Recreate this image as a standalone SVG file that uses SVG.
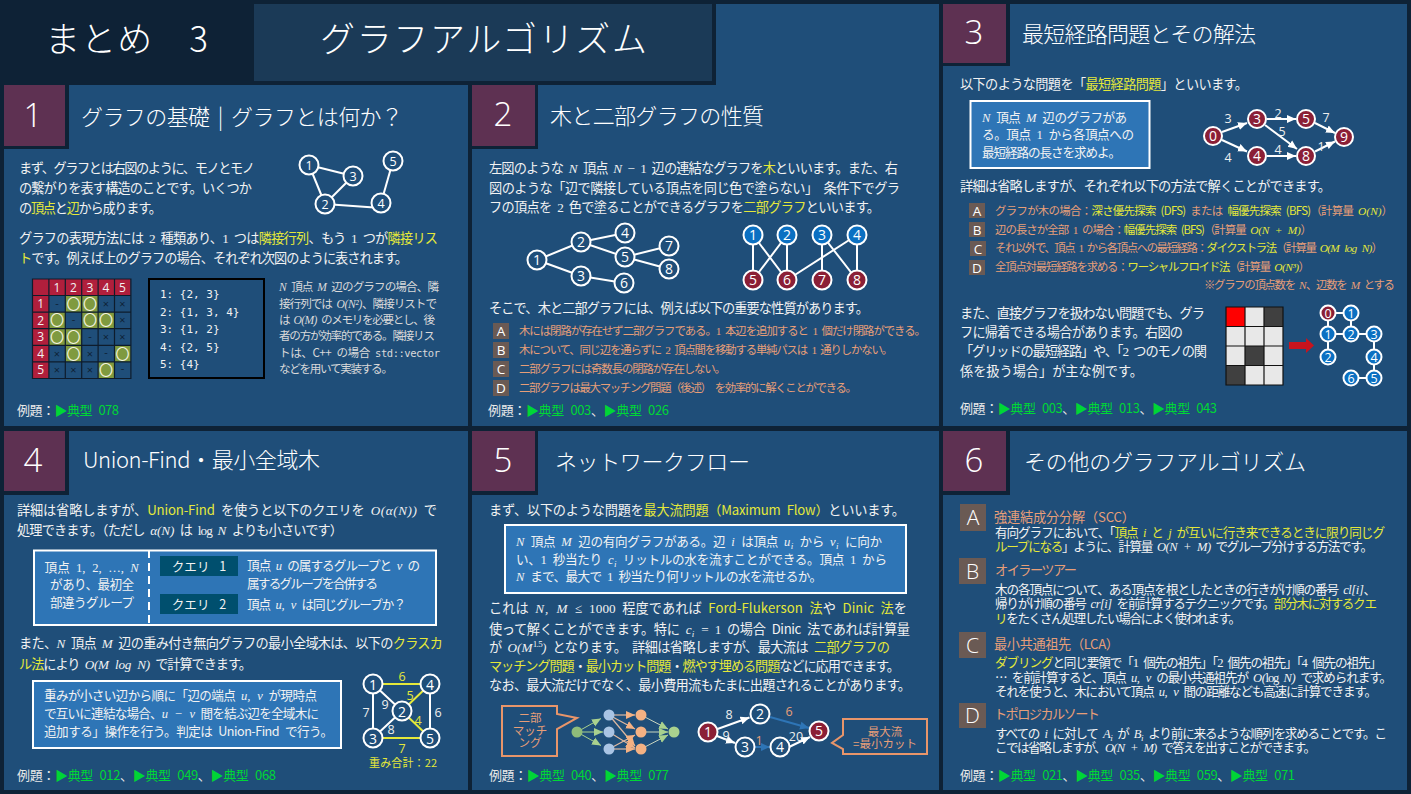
<svg xmlns="http://www.w3.org/2000/svg" width="1411" height="794" viewBox="0 0 1411 794">
<style>
text{font-family:"Noto Sans CJK JP","Noto Sans",sans-serif;fill:#f2f2f2}
.b{font-size:13.2px;word-spacing:3.5px}
.s{font-size:11.6px;word-spacing:3px}
.c{font-size:12.6px;word-spacing:3.5px}
.o{fill:#e79e78}
.sa{font-size:11.4px;fill:#e79e78;word-spacing:3px}
.y{fill:#e4e83a}
.g{fill:#00d636}
.ex{font-size:13px;fill:#e8e8e8;word-spacing:4px}
.m{font-family:"Liberation Serif","DejaVu Serif",serif;font-style:italic;letter-spacing:.7px}
.r{font-family:"Liberation Serif","DejaVu Serif",serif}
.p{fill:#1f4e79}
.sh{fill:#0e2236}
.nb{fill:#5e3152}
.num{font-family:"Open Sans","Noto Sans",sans-serif;font-weight:300;font-size:33px;text-anchor:middle;fill:#fff}
.h{font-size:22px;font-weight:300;fill:#fff;word-spacing:4px}
.big{font-size:35px;font-weight:300;fill:#fff}
.bd{fill:#6a5a54}
.bl{font-family:"Open Sans","Noto Sans",sans-serif;font-size:13.5px;text-anchor:middle;fill:#fff}
.bl2{font-family:"Open Sans","Noto Sans",sans-serif;font-size:21px;font-weight:300;text-anchor:middle;fill:#fff}
.box{fill:#2e75b6;stroke:#fff;stroke-width:2}
.n{fill:#1f4e79;stroke:#fff;stroke-width:2}
.nr{fill:#8b1f36;stroke:#fff;stroke-width:2}
.nbl{fill:#0b70c2;stroke:#fff;stroke-width:2}
.nl{font-family:"Open Sans","Noto Sans",sans-serif;font-size:14px;text-anchor:middle;fill:#fff}
.nls{font-family:"Open Sans","Noto Sans",sans-serif;font-size:12.5px;text-anchor:middle;fill:#fff}
.e{stroke:#fff;stroke-width:2;fill:none}
.ey{stroke:#e4e83a;stroke-width:2;fill:none}
.eb{stroke:#2e75b6;stroke-width:2;fill:none}
.lb{font-family:"Open Sans","Noto Sans",sans-serif;font-size:12.5px;text-anchor:middle;fill:#eee}
.lo{fill:#e79e78}
.ly{fill:#e4e83a}
.co{fill:#1f4e79;stroke:#e8956a;stroke-width:2}
.ct{font-size:11.5px;text-anchor:middle;fill:#e79e78}
.mono{font-family:"DejaVu Sans Mono","Liberation Mono",monospace;font-size:11px;fill:#f2f2f2}
.hd{fill:#b01f3c}
.cl{fill:#7f9a3f}
.gl{stroke:#0e1c2c;stroke-width:1.2;fill:none}
.mt{font-family:"Open Sans","Noto Sans",sans-serif;font-size:12px;text-anchor:middle;fill:#f2f2f2}
.mx{font-family:"Open Sans","Noto Sans",sans-serif;font-size:11px;text-anchor:middle;fill:#0e2236}
.mo{font-size:14px;text-anchor:middle;fill:#f4f4e0}
.q{fill:#004f6e}
.qt{font-size:12.6px;text-anchor:middle;fill:#f2f2f2;word-spacing:7px}
.ln{stroke:#c9d6c0;stroke-width:1;fill:none}
.lnor{stroke:#e0b9a0;stroke-width:1.2;fill:none}
</style>
<defs>
<marker id="aw" markerUnits="userSpaceOnUse" markerWidth="10" markerHeight="10" refX="9" refY="5" orient="auto"><path d="M0 1L9 5L0 9z" fill="#fff"/></marker>
<marker id="ab" markerUnits="userSpaceOnUse" markerWidth="10" markerHeight="10" refX="9" refY="5" orient="auto"><path d="M0 1L9 5L0 9z" fill="#2e75b6"/></marker>
<marker id="ag" markerUnits="userSpaceOnUse" markerWidth="10" markerHeight="10" refX="9" refY="5" orient="auto"><path d="M0 1L9 5L0 9z" fill="#a9d18e"/></marker>
<marker id="ao" markerUnits="userSpaceOnUse" markerWidth="10" markerHeight="10" refX="9" refY="5" orient="auto"><path d="M0 1L9 5L0 9z" fill="#f4b183"/></marker>
</defs>
<rect width="1411" height="794" class="sh"/>

<g id="title">
<rect x="716" y="4" width="223" height="81" class="p"/>
<rect x="254" y="4" width="458" height="77" fill="#1b3a57"/>
<text x="45" y="52" class="big" textLength="163">まとめ　3</text>
<text x="320" y="52" class="big" textLength="327">グラフアルゴリズム</text>
</g>

<g id="panel-1">
<rect x="4" y="85" width="464" height="341" class="p"/>
<rect x="4" y="85" width="65" height="64" class="sh"/><rect x="4" y="85" width="61" height="61" class="nb"/>
<text x="33" y="127" class="num">1</text>
<text x="81" y="125" class="h" textLength="322">グラフの基礎 | グラフとは何か？</text>
<text x="19" y="173" class="b" textLength="236">まず、グラフとは右図のように、モノとモノ</text>
<text x="19" y="193" class="b" textLength="233">の繋がりを表す構造のことです。いくつか</text>
<text x="19" y="213" class="b" textLength="143">の<tspan class="y">頂点</tspan>と<tspan class="y">辺</tspan>から成ります。</text>
<text x="19" y="243" class="b" textLength="419">グラフの表現方法には <tspan class="r">2</tspan> 種類あり、<tspan class="r">1</tspan> つは<tspan class="y">隣接行列</tspan>、もう <tspan class="r">1</tspan> つが<tspan class="y">隣接リス</tspan></text>
<text x="19" y="263" class="b" textLength="389"><tspan class="y">ト</tspan>です。例えば上のグラフの場合、それぞれ次図のように表されます。</text>

<g id="graph-1-connectors">
<line x1="309" y1="165" x2="353" y2="176" class="e"/><line x1="309" y1="165" x2="325" y2="204" class="e"/><line x1="353" y1="176" x2="325" y2="204" class="e"/><line x1="325" y1="204" x2="381" y2="208" class="e"/><line x1="381" y1="203" x2="393" y2="161" class="e"/>
</g>
<g id="g1-n1"><circle cx="309" cy="165" r="9.5" class="n"/><text x="309" y="170" class="nls">1</text></g>
<g id="g1-n3"><circle cx="353" cy="176" r="9.5" class="n"/><text x="353" y="181" class="nls">3</text></g>
<g id="g1-n5"><circle cx="393" cy="161" r="9.5" class="n"/><text x="393" y="166" class="nls">5</text></g>
<g id="g1-n2"><circle cx="325" cy="204" r="9.5" class="n"/><text x="325" y="209" class="nls">2</text></g>
<g id="g1-n4"><circle cx="381" cy="203" r="9.5" class="n"/><text x="381" y="208" class="nls">4</text></g>

<g id="matrix">
<rect x="32.5" y="279" width="98" height="16.5" class="hd"/><rect x="32.5" y="279" width="16.4" height="99.5" class="hd"/>
<rect x="65.3" y="295.5" width="32.8" height="16.6" class="cl"/>
<rect x="48.9" y="312.1" width="16.4" height="33.2" class="cl"/><rect x="81.7" y="312.1" width="32.8" height="16.6" class="cl"/>
<rect x="65.3" y="328.7" width="16.4" height="16.6" class="cl"/>
<rect x="65.3" y="345.3" width="16.4" height="16.6" class="cl"/><rect x="114.5" y="345.3" width="16.4" height="16.6" class="cl"/>
<rect x="98.1" y="361.9" width="16.4" height="16.6" class="cl"/>
<path class="gl" d="M32.5 279H130.9V378.5H32.5ZM48.9 279V378.5M65.3 279V378.5M81.7 279V378.5M98.1 279V378.5M114.5 279V378.5M32.5 295.5H130.9M32.5 312.1H130.9M32.5 328.7H130.9M32.5 345.3H130.9M32.5 361.9H130.9"/>
<text x="57" y="292" class="mt">1</text><text x="73.5" y="292" class="mt">2</text><text x="90" y="292" class="mt">3</text><text x="106" y="292" class="mt">4</text><text x="122.5" y="292" class="mt">5</text>
<text x="40.7" y="308" class="mt">1</text><text x="40.7" y="325" class="mt">2</text><text x="40.7" y="341" class="mt">3</text><text x="40.7" y="358" class="mt">4</text><text x="40.7" y="374" class="mt">5</text>
<text x="57" y="307" class="mx">-</text><text x="73.5" y="309" class="mo">〇</text><text x="90" y="309" class="mo">〇</text><text x="106" y="307.5" class="mx">×</text><text x="122.5" y="307.5" class="mx">×</text>
<text x="57" y="325" class="mo">〇</text><text x="73.5" y="323" class="mx">-</text><text x="90" y="325" class="mo">〇</text><text x="106" y="325" class="mo">〇</text><text x="122.5" y="324" class="mx">×</text>
<text x="57" y="342" class="mo">〇</text><text x="73.5" y="342" class="mo">〇</text><text x="90" y="340" class="mx">-</text><text x="106" y="341" class="mx">×</text><text x="122.5" y="341" class="mx">×</text>
<text x="57" y="357.5" class="mx">×</text><text x="73.5" y="359" class="mo">〇</text><text x="90" y="357.5" class="mx">×</text><text x="106" y="356" class="mx">-</text><text x="122.5" y="359" class="mo">〇</text>
<text x="57" y="374" class="mx">×</text><text x="73.5" y="374" class="mx">×</text><text x="90" y="374" class="mx">×</text><text x="106" y="375" class="mo">〇</text><text x="122.5" y="372" class="mx">-</text>
</g>
<g id="adj-list">
<rect x="149" y="279" width="115" height="99" fill="none" stroke="#000" stroke-width="2"/>
<text x="160" y="298" class="mono">1: {2, 3}</text>
<text x="160" y="316" class="mono">2: {1, 3, 4}</text>
<text x="160" y="333" class="mono">3: {1, 2}</text>
<text x="160" y="351" class="mono">4: {2, 5}</text>
<text x="160" y="368" class="mono">5: {4}</text>
</g>
<g>
<text x="279" y="291" class="s" textLength="160" style="fill:#d9d9d9"><tspan class="m">N</tspan> 頂点 <tspan class="m">M</tspan> 辺のグラフの場合、隣</text>
<text x="279" y="308" class="s" textLength="158" style="fill:#d9d9d9">接行列では <tspan class="m">O(N²)</tspan>、隣接リストで</text>
<text x="279" y="324" class="s" textLength="156" style="fill:#d9d9d9">は <tspan class="m">O(M)</tspan> のメモリを必要とし、後</text>
<text x="279" y="340" class="s" textLength="156" style="fill:#d9d9d9">者の方が効率的である。隣接リス</text>
<text x="279" y="357" class="s" textLength="161" style="fill:#d9d9d9">トは、C++ の場合 <tspan font-family="DejaVu Sans Mono" font-size="10.5">std::vector</tspan></text>
<text x="279" y="373" class="s" textLength="114" style="fill:#d9d9d9">などを用いて実装する。</text>
</g>
<text x="17" y="415" class="ex" textLength="102">例題：<tspan class="g">▶典型 078</tspan></text>
</g>

<g id="panel-2">
<rect x="472" y="85" width="467" height="341" class="p"/>
<rect x="472" y="85" width="66" height="64" class="sh"/><rect x="472" y="85" width="63" height="61" class="nb"/>
<text x="503" y="126" class="num">2</text>
<text x="550" y="124" class="h" textLength="214">木と二部グラフの性質</text>
<text x="489" y="173" class="b" textLength="409">左図のような <tspan class="m">N</tspan> 頂点 <tspan class="m">N</tspan> <tspan class="r">− 1</tspan> 辺の連結なグラフを<tspan class="y">木</tspan>といいます。また、右</text>
<text x="489" y="193" class="b" textLength="411">図のような「辺で隣接している頂点を同じ色で塗らない」 条件下でグラ</text>
<text x="489" y="212" class="b" textLength="391">フの頂点を <tspan class="r">2</tspan> 色で塗ることができるグラフを<tspan class="y">二部グラフ</tspan>といいます。</text>
<g id="tree-connectors">
<path class="e" d="M537 260L581 242M537 260L581 276M581 242L625 233M581 242L625 257M581 276L624 283M625 257L669 246M625 257L669 269"/>
</g>
<g id="t-n1"><circle cx="537" cy="260" r="9.5" class="n"/><text x="537" y="265" class="nl">1</text></g>
<g id="t-n2"><circle cx="581" cy="242" r="9.5" class="n"/><text x="581" y="247" class="nl">2</text></g>
<g id="t-n3"><circle cx="581" cy="276" r="9.5" class="n"/><text x="581" y="281" class="nl">3</text></g>
<g id="t-n4"><circle cx="625" cy="233" r="9.5" class="n"/><text x="625" y="238" class="nl">4</text></g>
<g id="t-n5"><circle cx="625" cy="257" r="9.5" class="n"/><text x="625" y="262" class="nl">5</text></g>
<g id="t-n6"><circle cx="624" cy="283" r="9.5" class="n"/><text x="624" y="288" class="nl">6</text></g>
<g id="t-n7"><circle cx="669" cy="246" r="9.5" class="n"/><text x="669" y="251" class="nl">7</text></g>
<g id="t-n8"><circle cx="669" cy="269" r="9.5" class="n"/><text x="669" y="274" class="nl">8</text></g>
<g id="bip-connectors">
<path class="e" d="M753 235V280M753 235L787 280M787 235L753 280M787 235V280M822 235V280M822 235L857 280M857 235L787 280M857 235V280"/>
</g>
<g id="b-n1"><circle cx="753" cy="235" r="9.5" class="nbl"/><text x="753" y="240" class="nl">1</text></g>
<g id="b-n2"><circle cx="787" cy="235" r="9.5" class="nbl"/><text x="787" y="240" class="nl">2</text></g>
<g id="b-n3"><circle cx="822" cy="235" r="9.5" class="nbl"/><text x="822" y="240" class="nl">3</text></g>
<g id="b-n4"><circle cx="857" cy="235" r="9.5" class="nbl"/><text x="857" y="240" class="nl">4</text></g>
<g id="b-n5"><circle cx="753" cy="280" r="9.5" class="nr"/><text x="753" y="285" class="nl">5</text></g>
<g id="b-n6"><circle cx="787" cy="280" r="9.5" class="nr"/><text x="787" y="285" class="nl">6</text></g>
<g id="b-n7"><circle cx="822" cy="280" r="9.5" class="nr"/><text x="822" y="285" class="nl">7</text></g>
<g id="b-n8"><circle cx="857" cy="280" r="9.5" class="nr"/><text x="857" y="285" class="nl">8</text></g>
<text x="489" y="313" class="b" textLength="380">そこで、木と二部グラフには、例えば以下の重要な性質があります。</text>
<rect x="493" y="323" width="16" height="16" class="bd"/><text x="501" y="336" class="bl">A</text>
<rect x="493" y="342" width="16" height="16" class="bd"/><text x="501" y="355" class="bl">B</text>
<rect x="493" y="361" width="16" height="16" class="bd"/><text x="501" y="374" class="bl">C</text>
<rect x="493" y="380" width="16" height="16" class="bd"/><text x="501" y="393" class="bl">D</text>
<text x="519" y="335" class="sa" textLength="407">木には閉路が存在せず二部グラフである。<tspan class="r">1</tspan> 本辺を追加すると <tspan class="r">1</tspan> 個だけ閉路ができる。</text>
<text x="519" y="354" class="sa" textLength="374">木について、同じ辺を通らずに <tspan class="r">2</tspan> 頂点間を移動する単純パスは <tspan class="r">1</tspan> 通りしかない。</text>
<text x="519" y="372.5" class="sa" textLength="207">二部グラフには奇数長の閉路が存在しない。</text>
<text x="519" y="392" class="sa" textLength="338">二部グラフは最大マッチング問題（後述） を効率的に解くことができる。</text>
<text x="488" y="415" class="ex" textLength="181">例題：<tspan class="g">▶典型 003</tspan><tspan>、</tspan><tspan class="g">▶典型 026</tspan></text>
</g>

<g id="panel-3">
<rect x="943" y="4" width="464" height="422" class="p"/>
<rect x="943" y="4" width="67" height="62" class="sh"/><rect x="943" y="4" width="63" height="59" class="nb"/>
<text x="974" y="44" class="num">3</text>
<text x="1022" y="42" class="h" textLength="234">最短経路問題とその解法</text>
<text x="960" y="89" class="b" textLength="288">以下のような問題を「<tspan class="y">最短経路問題</tspan>」といいます。</text>
<rect x="970.5" y="101" width="179" height="67" class="box"/>
<text x="982" y="122" class="c" textLength="145"><tspan class="m">N</tspan> 頂点 <tspan class="m">M</tspan> 辺のグラフがあ</text>
<text x="982" y="139" class="c" textLength="152">る。頂点 <tspan class="r">1</tspan> から各頂点への</text>
<text x="982" y="157" class="c" textLength="139">最短経路の長さを求めよ。</text>
<g id="sp-connectors">
<line x1="1222" y1="132" x2="1247" y2="123" class="e" marker-end="url(#aw)"/>
<line x1="1222" y1="140" x2="1247" y2="151.5" class="e" marker-end="url(#aw)"/>
<line x1="1267" y1="119" x2="1296" y2="119" class="e" marker-end="url(#aw)"/>
<line x1="1265" y1="125" x2="1297" y2="149" class="e" marker-end="url(#aw)"/>
<line x1="1267" y1="156" x2="1296" y2="156" class="e" marker-end="url(#aw)"/>
<line x1="1315" y1="123" x2="1335" y2="133" class="e" marker-end="url(#aw)"/>
<line x1="1315" y1="151.5" x2="1335" y2="141.5" class="e" marker-end="url(#aw)"/>
<text x="1228" y="123" class="lb">3</text><text x="1228" y="162" class="lb">4</text><text x="1278" y="118" class="lb">2</text><text x="1282" y="136" class="lb">5</text><text x="1278" y="154" class="lb">4</text><text x="1326" y="122" class="lb">7</text><text x="1321" y="151" class="lb">1</text>
</g>
<g id="sp-n0"><circle cx="1213" cy="136" r="9" class="nr"/><text x="1213" y="141" class="nl">0</text></g>
<g id="sp-n3"><circle cx="1257" cy="119" r="9" class="nr"/><text x="1257" y="124" class="nl">3</text></g>
<g id="sp-n4"><circle cx="1257" cy="156" r="9" class="nr"/><text x="1257" y="161" class="nl">4</text></g>
<g id="sp-n5"><circle cx="1306" cy="119" r="9" class="nr"/><text x="1306" y="124" class="nl">5</text></g>
<g id="sp-n8"><circle cx="1306" cy="156" r="9" class="nr"/><text x="1306" y="161" class="nl">8</text></g>
<g id="sp-n9"><circle cx="1344" cy="137" r="9" class="nr"/><text x="1344" y="142" class="nl">9</text></g>
<text x="960" y="191" class="b" textLength="371">詳細は省略しますが、それぞれ以下の方法で解くことができます。</text>
<rect x="969" y="203" width="16" height="15" class="bd"/><text x="977" y="215.5" class="bl">A</text>
<rect x="969" y="222" width="16" height="15" class="bd"/><text x="977" y="234.5" class="bl">B</text>
<rect x="970" y="241" width="16" height="15" class="bd"/><text x="978" y="253.5" class="bl">C</text>
<rect x="969" y="260" width="16" height="15" class="bd"/><text x="977" y="272.5" class="bl">D</text>
<text x="995" y="214.5" class="sa" textLength="398">グラフが木の場合：<tspan class="y">深さ優先探索 (DFS)</tspan> または <tspan class="y">幅優先探索 (BFS)</tspan>（計算量 <tspan class="y m">O(N)</tspan>）</text>
<text x="995" y="234" class="sa" textLength="317">辺の長さが全部 <tspan class="r">1</tspan> の場合：<tspan class="y">幅優先探索 (BFS)</tspan>（計算量 <tspan class="y m">O(N + M)</tspan>）</text>
<text x="995" y="252" class="sa" textLength="388">それ以外で、頂点 <tspan class="r">1</tspan> から各頂点への最短経路：<tspan class="y">ダイクストラ法</tspan>（計算量 <tspan class="y m">O(M log N)</tspan>）</text>
<text x="995" y="271" class="sa" textLength="315">全頂点対最短経路を求める：<tspan class="y">ワーシャルフロイド法</tspan>（計算量 <tspan class="y m">O(N³)</tspan>）</text>
<text x="1204" y="289" class="sa" textLength="191">※グラフの頂点数を <tspan class="m">N</tspan>、辺数を <tspan class="m">M</tspan> とする</text>
<text x="960" y="318" class="b" textLength="245">また、直接グラフを扱わない問題でも、グラ</text>
<text x="960" y="337" class="b" textLength="223">フに帰着できる場合があります。右図の</text>
<text x="960" y="356" class="b" textLength="247">「グリッドの最短経路」や、「<tspan class="r">2</tspan> つのモノの関</text>
<text x="960" y="376" class="b" textLength="183">係を扱う場合」が主な例です。</text>
<g id="grid">
<rect x="1226" y="307" width="57" height="78" fill="#e8e8e8"/>
<rect x="1226" y="307" width="19" height="19.5" fill="#ff0000"/>
<rect x="1264" y="307" width="19" height="19.5" fill="#404040"/>
<rect x="1245" y="346" width="19" height="19.5" fill="#404040"/>
<rect x="1226" y="365.5" width="19" height="19.5" fill="#404040"/>
<path d="M1226 307H1283V385H1226ZM1245 307V385M1264 307V385M1226 326.5H1283M1226 346H1283M1226 365.5H1283" stroke="#111" stroke-width="1.2" fill="none"/>
</g>
<path id="red-arrow" d="M1289 342H1306V338L1314 345.5L1306 353V349H1289Z" fill="#c8141e"/>
<g id="grid-connectors">
<path d="M1328 313H1351M1328 313V357M1351 313V334M1328 334H1374M1374 334V378M1351 378H1374" class="e"/>
</g>
<g id="gg-0"><circle cx="1328" cy="313" r="7.5" class="nr"/><text x="1328" y="317.5" class="nls">0</text></g>
<g id="gg-1a"><circle cx="1351" cy="313" r="7.5" class="nbl"/><text x="1351" y="317.5" class="nls">1</text></g>
<g id="gg-1b"><circle cx="1328" cy="334" r="7.5" class="nbl"/><text x="1328" y="338.5" class="nls">1</text></g>
<g id="gg-2a"><circle cx="1351" cy="334" r="7.5" class="nbl"/><text x="1351" y="338.5" class="nls">2</text></g>
<g id="gg-3"><circle cx="1374" cy="334" r="7.5" class="nbl"/><text x="1374" y="338.5" class="nls">3</text></g>
<g id="gg-2b"><circle cx="1328" cy="357" r="7.5" class="nbl"/><text x="1328" y="361.5" class="nls">2</text></g>
<g id="gg-4"><circle cx="1374" cy="357" r="7.5" class="nbl"/><text x="1374" y="361.5" class="nls">4</text></g>
<g id="gg-6"><circle cx="1351" cy="378" r="7.5" class="nbl"/><text x="1351" y="382.5" class="nls">6</text></g>
<g id="gg-5"><circle cx="1374" cy="378" r="7.5" class="nbl"/><text x="1374" y="382.5" class="nls">5</text></g>
<text x="960" y="413" class="ex" textLength="257">例題：<tspan class="g">▶典型 003</tspan>、<tspan class="g">▶典型 013</tspan>、<tspan class="g">▶典型 043</tspan></text>
</g>

<g id="panel-4">
<rect x="4" y="431" width="464" height="359" class="p"/>
<rect x="4" y="431" width="65" height="64" class="sh"/><rect x="4" y="431" width="61" height="60" class="nb"/>
<text x="33" y="472" class="num">4</text>
<text x="83" y="468" class="h" textLength="237">Union-Find・最小全域木</text>
<text x="17" y="515" class="b" textLength="420">詳細は省略しますが、<tspan class="y">Union-Find</tspan> を使うと以下のクエリを <tspan class="m">O(α(N))</tspan> で</text>
<text x="17" y="535" class="b" textLength="326">処理できます。（ただし <tspan class="m">α(N)</tspan> は <tspan class="r">log</tspan> <tspan class="m">N</tspan> よりも小さいです）</text>
<rect x="34" y="550.5" width="402" height="74.5" class="box"/>
<line x1="149" y1="550" x2="149" y2="625" stroke="#fff" stroke-width="2" stroke-dasharray="8 5"/>
<text x="92" y="572" class="c" text-anchor="middle">頂点 <tspan class="r">1, 2, …,</tspan> <tspan class="m">N</tspan></text>
<text x="92" y="589" class="c" text-anchor="middle" textLength="84">があり、最初全</text>
<text x="92" y="607" class="c" text-anchor="middle" textLength="84">部違うグループ</text>
<rect x="160" y="556" width="78" height="20" class="q"/><text x="199" y="571" class="qt">クエリ 1</text>
<rect x="160" y="594" width="78" height="20" class="q"/><text x="199" y="609" class="qt">クエリ 2</text>
<text x="247" y="570" class="c" textLength="173">頂点 <tspan class="m">u</tspan> の属するグループと <tspan class="m">v</tspan> の</text>
<text x="247" y="587.5" class="c" textLength="131">属するグループを合併する</text>
<text x="247" y="609" class="c" textLength="159">頂点 <tspan class="m">u, v</tspan> は同じグループか？</text>
<text x="19" y="648" class="b" textLength="424">また、<tspan class="m">N</tspan> 頂点 <tspan class="m">M</tspan> 辺の重み付き無向グラフの最小全域木は、以下の<tspan class="y">クラスカ</tspan></text>
<text x="19" y="669" class="b" textLength="233"><tspan class="y">ル法</tspan>により <tspan class="m">O(M log N)</tspan> で計算できます。</text>
<rect x="33" y="681" width="308" height="67" class="box"/>
<text x="44" y="700" class="c" textLength="273">重みが小さい辺から順に「辺の端点 <tspan class="m">u, v</tspan> が現時点</text>
<text x="44" y="718" class="c" textLength="275">で互いに連結な場合、<tspan class="m">u − v</tspan> 間を結ぶ辺を全域木に</text>
<text x="44" y="736" class="c" textLength="289">追加する」操作を行う。判定は Union-Find で行う。</text>
<g id="mst-connectors">
<path class="e" d="M373 684L402 711M402 711L373 738M373 684V738M430 684V738"/>
<path class="ey" d="M373 684H430M402 711L430 684M402 711L430 738M373 738H430"/>
<text x="402" y="681" class="lb ly">6</text><text x="410" y="700" class="lb ly">5</text><text x="418" y="725" class="lb ly">4</text><text x="402" y="753" class="lb ly">7</text>
<text x="366" y="717" class="lb">7</text><text x="385" y="709" class="lb">9</text><text x="391" y="734" class="lb">8</text><text x="438" y="717" class="lb">6</text>
</g>
<g id="m-n1"><circle cx="373" cy="684" r="9.5" class="n"/><text x="373" y="690" class="nl">1</text></g>
<g id="m-n4"><circle cx="430" cy="684" r="9.5" class="n"/><text x="430" y="690" class="nl">4</text></g>
<g id="m-n2"><circle cx="402" cy="711" r="9.5" class="n"/><text x="402" y="717" class="nl">2</text></g>
<g id="m-n3"><circle cx="373" cy="738" r="9.5" class="n"/><text x="373" y="744" class="nl">3</text></g>
<g id="m-n5"><circle cx="430" cy="738" r="9.5" class="n"/><text x="430" y="744" class="nl">5</text></g>
<text x="369" y="767" font-size="11" class="y" textLength="68">重み合計：22</text>
<text x="17" y="780" class="ex" textLength="259">例題：<tspan class="g">▶典型 012</tspan>、<tspan class="g">▶典型 049</tspan>、<tspan class="g">▶典型 068</tspan></text>
</g>

<g id="panel-5">
<rect x="472" y="431" width="467" height="359" class="p"/>
<rect x="472" y="431" width="66" height="64" class="sh"/><rect x="472" y="431" width="63" height="60" class="nb"/>
<text x="503" y="472" class="num">5</text>
<text x="555" y="470" class="h" textLength="195">ネットワークフロー</text>
<text x="489" y="515" class="b" textLength="416">まず、以下のような問題を<tspan class="y">最大流問題（Maximum Flow）</tspan>といいます。</text>
<rect x="505" y="525" width="401" height="68" class="box"/>
<text x="516" y="546" class="c" textLength="366"><tspan class="m">N</tspan> 頂点 <tspan class="m">M</tspan> 辺の有向グラフがある。辺 <tspan class="m">i</tspan> は頂点 <tspan class="m">u</tspan><tspan class="m" dy="3" font-size="9">i</tspan><tspan dy="-3"> から </tspan><tspan class="m">v</tspan><tspan class="m" dy="3" font-size="9">i</tspan><tspan dy="-3"> に向か</tspan></text>
<text x="516" y="563.5" class="c" textLength="371">い、<tspan class="r">1</tspan> 秒当たり <tspan class="m">c</tspan><tspan class="m" dy="3" font-size="9">i</tspan><tspan dy="-3"> リットルの水を流すことができる。頂点 </tspan><tspan class="r">1</tspan> から</text>
<text x="516" y="581" class="c" textLength="306"><tspan class="m">N</tspan> まで、最大で <tspan class="r">1</tspan> 秒当たり何リットルの水を流せるか。</text>
<text x="489" y="613" class="b" textLength="418">これは <tspan class="m">N, M</tspan> <tspan class="r">≤ 1000</tspan> 程度であれば <tspan class="y">Ford-Flukerson 法</tspan>や <tspan class="y">Dinic 法</tspan>を</text>
<text x="489" y="633.5" class="b" textLength="421">使って解くことができます。特に <tspan class="m">c</tspan><tspan class="m" dy="3" font-size="9">i</tspan><tspan class="r" dy="-3"> = 1</tspan> の場合 Dinic 法であれば計算量</text>
<text x="489" y="652" class="b" textLength="401">が <tspan class="m">O(M</tspan><tspan class="r" dy="-5" font-size="9">1.5</tspan><tspan class="m" dy="5">)</tspan> となります。 詳細は省略しますが、最大流は <tspan class="y">二部グラフの</tspan></text>
<text x="489" y="671" class="b" textLength="411"><tspan class="y">マッチング問題</tspan>・<tspan class="y">最小カット問題</tspan>・<tspan class="y">燃やす埋める問題</tspan>などに応用できます。</text>
<text x="489" y="690" class="b" textLength="422">なお、最大流だけでなく、最小費用流もたまに出題されることがあります。</text>
<g id="callout-1">
<path class="co" d="M502 706H557V714L577 718L557 729V756H502Z"/>
<text x="530" y="722" class="ct">二部</text><text x="530" y="735" class="ct">マッチ</text><text x="530" y="747" class="ct">ング</text>
</g>
<g id="match-connectors">
<line x1="577" y1="732" x2="601" y2="718.5" stroke="#a9d18e" stroke-width="1" marker-end="url(#ag)"/>
<line x1="577" y1="732" x2="603" y2="732" stroke="#a9d18e" stroke-width="1" marker-end="url(#ag)"/>
<line x1="577" y1="732" x2="601" y2="745.5" stroke="#a9d18e" stroke-width="1" marker-end="url(#ag)"/>
<line x1="609" y1="715" x2="635" y2="715" class="lnor" marker-end="url(#ao)"/>
<line x1="609" y1="715" x2="635" y2="729" class="lnor" marker-end="url(#ao)"/>
<line x1="609" y1="715" x2="635" y2="746" class="lnor" marker-end="url(#ao)"/>
<line x1="609" y1="732" x2="635" y2="748" class="lnor" marker-end="url(#ao)"/>
<line x1="609" y1="749" x2="635" y2="749" class="lnor" marker-end="url(#ao)"/>
<line x1="609" y1="749" x2="635" y2="735" class="lnor" marker-end="url(#ao)"/>
<line x1="641" y1="715" x2="668" y2="729" class="ln" marker-end="url(#ag)"/>
<line x1="641" y1="732" x2="668" y2="732" class="ln" marker-end="url(#ag)"/>
<line x1="641" y1="749" x2="668" y2="735" class="ln" marker-end="url(#ag)"/>
</g>
<g id="match-s"><circle cx="577" cy="732" r="5.5" fill="#8fbc7a"/></g>
<g id="match-b1"><circle cx="609" cy="715" r="5.5" fill="#a9c4e4"/></g>
<g id="match-b2"><circle cx="609" cy="732" r="5.5" fill="#a9c4e4"/></g>
<g id="match-b3"><circle cx="609" cy="749" r="5.5" fill="#a9c4e4"/></g>
<g id="match-o1"><circle cx="641" cy="715" r="5.5" fill="#f4b183"/></g>
<g id="match-o2"><circle cx="641" cy="732" r="5.5" fill="#f4b183"/></g>
<g id="match-o3"><circle cx="641" cy="749" r="5.5" fill="#f4b183"/></g>
<g id="match-t"><circle cx="674" cy="732" r="5.5" fill="#a9d18e"/></g>
<g id="flow-connectors">
<line x1="717.5" y1="729" x2="749.5" y2="717.5" class="e" marker-end="url(#aw)"/>
<line x1="770" y1="717" x2="809" y2="728" class="eb" marker-end="url(#ab)"/>
<line x1="717" y1="736" x2="735" y2="743" class="e" marker-end="url(#aw)"/>
<line x1="755" y1="747" x2="770" y2="747" class="eb" marker-end="url(#ab)"/>
<line x1="789" y1="747" x2="810" y2="737" class="e" marker-end="url(#aw)"/>
<text x="729" y="719" class="lb">8</text><text x="789" y="716" class="lb lo">6</text><text x="726" y="740" class="lb">9</text><text x="759" y="745" class="lb lo">1</text><text x="796" y="741" class="lb">20</text>
</g>
<g id="f-n1"><circle cx="708" cy="732" r="9.5" class="nr"/><text x="708" y="737" class="nl">1</text></g>
<g id="f-n2"><circle cx="760" cy="714" r="9.5" class="n"/><text x="760" y="719" class="nl">2</text></g>
<g id="f-n3"><circle cx="745" cy="747" r="9.5" class="n"/><text x="745" y="752" class="nl">3</text></g>
<g id="f-n4"><circle cx="780" cy="747" r="9.5" class="n"/><text x="780" y="752" class="nl">4</text></g>
<g id="f-n5"><circle cx="819" cy="731" r="9.5" class="nr"/><text x="819" y="736" class="nl">5</text></g>
<g id="callout-2">
<path class="co" d="M843 719H927V754H843V749L832 743L843 735Z"/>
<text x="885" y="735.5" class="ct">最大流</text><text x="885" y="747.5" class="ct">=最小カット</text>
</g>
<text x="489" y="780" class="ex" textLength="180">例題：<tspan class="g">▶典型 040</tspan>、<tspan class="g">▶典型 077</tspan></text>
</g>

<g id="panel-6">
<rect x="943" y="431" width="464" height="359" class="p"/>
<rect x="943" y="431" width="67" height="64" class="sh"/><rect x="943" y="431" width="63" height="60" class="nb"/>
<text x="974" y="472" class="num">6</text>
<text x="1024" y="470" class="h" textLength="282">その他のグラフアルゴリズム</text>
<rect x="960" y="504" width="26" height="27" class="bd"/><text x="973" y="525" class="bl2">A</text>
<rect x="959" y="558" width="27" height="26" class="bd"/><text x="972.5" y="578.5" class="bl2">B</text>
<rect x="959" y="632" width="27" height="26" class="bd"/><text x="972.5" y="652.5" class="bl2">C</text>
<rect x="959" y="703" width="27" height="25" class="bd"/><text x="972.5" y="723" class="bl2">D</text>
<text x="994" y="522" class="b o" textLength="141">強連結成分分解（SCC）</text>
<text x="995" y="537" class="c" textLength="390">有向グラフにおいて、「<tspan class="y">頂点 </tspan><tspan class="y m">i</tspan><tspan class="y"> と </tspan><tspan class="y m">j</tspan><tspan class="y"> が互いに行き来できるときに限り同じグ</tspan></text>
<text x="995" y="551" class="c" textLength="378"><tspan class="y">ループになる</tspan>」ように、計算量 <tspan class="m">O(N + M)</tspan> でグループ分けする方法です。</text>
<text x="995" y="574.5" class="b o" textLength="82">オイラーツアー</text>
<text x="995" y="594" class="c" textLength="381">木の各頂点について、ある頂点を根としたときの行きがけ順の番号 <tspan class="m">cl[i]</tspan>、</text>
<text x="995" y="608" class="c" textLength="382">帰りがけ順の番号 <tspan class="m">cr[i]</tspan> を前計算するテクニックです。<tspan class="y">部分木に対するクエ</tspan></text>
<text x="995" y="623" class="c" textLength="246"><tspan class="y">リ</tspan>をたくさん処理したい場合によく使われます。</text>
<text x="994" y="649" class="b o" textLength="125">最小共通祖先（LCA）</text>
<text x="995" y="667" class="c" textLength="387"><tspan class="y">ダブリング</tspan>と同じ要領で「<tspan class="r">1</tspan> 個先の祖先」「<tspan class="r">2</tspan> 個先の祖先」「<tspan class="r">4</tspan> 個先の祖先」</text>
<text x="995" y="681.5" class="c" textLength="397">… を前計算すると、頂点 <tspan class="m">u, v</tspan> の最小共通祖先が <tspan class="m">O(</tspan><tspan class="r">log</tspan> <tspan class="m">N)</tspan> で求められます。</text>
<text x="995" y="696" class="c" textLength="382">それを使うと、木において頂点 <tspan class="m">u, v</tspan> 間の距離なども高速に計算できます。</text>
<text x="994" y="719" class="b o" textLength="106">トポロジカルソート</text>
<text x="995" y="737.5" class="c" textLength="392">すべての <tspan class="m">i</tspan> に対して <tspan class="m">A</tspan><tspan class="m" dy="3" font-size="9">i</tspan><tspan dy="-3"> が </tspan><tspan class="m">B</tspan><tspan class="m" dy="3" font-size="9">i</tspan><tspan dy="-3"> より前に来るような順列を求めることです。こ</tspan></text>
<text x="995" y="752" class="c" textLength="321">こでは省略しますが、<tspan class="m">O(N + M)</tspan> で答えを出すことができます。</text>
<text x="960" y="780" class="ex" textLength="335">例題：<tspan class="g">▶典型 021</tspan>、<tspan class="g">▶典型 035</tspan>、<tspan class="g">▶典型 059</tspan>、<tspan class="g">▶典型 071</tspan></text>
</g>
</svg>
